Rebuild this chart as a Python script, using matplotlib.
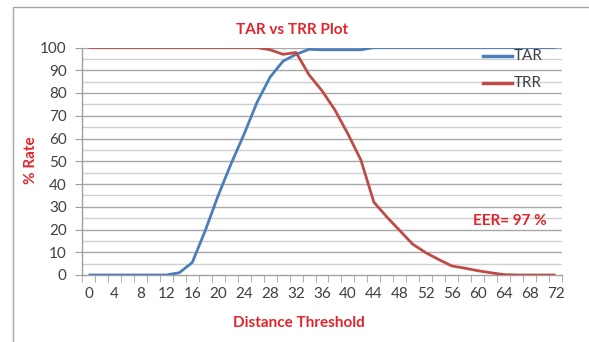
import matplotlib
matplotlib.use("Agg")
import matplotlib.pyplot as plt
from matplotlib.patches import Rectangle
from matplotlib.lines import Line2D
import numpy as np

thresholds = list(range(0, 74, 2))
tar = [0, 0, 0, 0, 0, 0, 0, 1, 5.5, 19.5, 35, 49, 62, 76, 87, 94, 97, 99.2,
       99, 99, 99, 99, 100, 100, 100, 100, 100, 100, 100, 100, 100, 100, 100, 100, 100, 100, 100]
trr = [100, 100, 100, 100, 100, 100, 100, 100, 100, 100, 100, 100, 100, 100, 99, 97, 97.8,
       88, 81, 72.5, 62, 50.5, 32, 25.5, 19.5, 13.5, 9.8, 6.8, 4, 3, 1.9, 1, 0.2, 0, 0, 0, 0]
xtick_labels = list(range(0, 73, 4))

plt.rcParams['font.family'] = ['Lato', 'DejaVu Sans']
RED = '#e3242b'
BLUE = '#4a7ebb'
TRRC = '#be4b48'
TXT = '#404040'

fig = plt.figure(figsize=(5.89, 3.42), dpi=100)
fig.patch.set_facecolor('white')
# outer frame
fig.patches.append(Rectangle((13/589, -0.05), 1.0, 1 - 7/342 + 0.05, transform=fig.transFigure,
                             fill=False, edgecolor='#a6a6a6', linewidth=1.0))

ax = fig.add_axes([82/589, 1 - 275/342, (562 - 82)/589, (275 - 47.5)/342])
ax.set_xlim(-1, 73)
ax.set_ylim(0, 100)

for v in range(5, 100, 10):
    ax.axhline(v, color='#d0d0d0', linewidth=1.0, zorder=1)
for v in range(10, 101, 10):
    ax.axhline(v, color='#a8a8a8', linewidth=1.0, zorder=1)

ax.plot(thresholds, tar, color=BLUE, linewidth=2.0, zorder=3, solid_capstyle='butt')
ax.plot(thresholds, trr, color=TRRC, linewidth=2.0, zorder=3, solid_capstyle='butt')

ax.set_xticks(xtick_labels)
ax.set_xticklabels([str(v) for v in xtick_labels])
ax.set_xticks(np.arange(-1, 74, 2), minor=True)
ax.tick_params(axis='x', which='major', length=0, pad=9, labelsize=11, labelcolor=TXT)
ax.tick_params(axis='x', which='minor', length=5, color='#a0a0a0', direction='out')
ax.set_yticks(range(0, 101, 10))
ax.tick_params(axis='y', which='major', length=5, color='#a0a0a0', pad=6, labelsize=11, labelcolor=TXT)

for s in ['top', 'right']:
    ax.spines[s].set_visible(False)
for s in ['left', 'bottom']:
    ax.spines[s].set_color('#a0a0a0')
    ax.spines[s].set_linewidth(1.0)

fig.text(292/589, 1 - 30/342, 'TAR vs TRR Plot', color=RED, fontsize=11, fontweight='bold',
         ha='center', va='center')
fig.text(299/589, 1 - 323/342, 'Distance Threshold', color=RED, fontsize=11, fontweight='bold',
         ha='center', va='center')
fig.text(31/589, 1 - 160/342, '% Rate', color=RED, fontsize=11, fontweight='bold',
         ha='center', va='center', rotation=90)
fig.text(510/589, 1 - 221/342, 'EER= 97 %', color=RED, fontsize=11, fontweight='bold',
         ha='center', va='center')

# legend
for y, c, lab in [(56, BLUE, 'TAR'), (83, TRRC, 'TRR')]:
    fig.lines.append(Line2D([483/589, 512/589], [1 - y/342, 1 - y/342], transform=fig.transFigure,
                            color=c, linewidth=2.5))
    fig.text(514/589, 1 - y/342, lab, color=TXT, fontsize=11, ha='left', va='center')

fig.savefig('out.png', dpi=100)
